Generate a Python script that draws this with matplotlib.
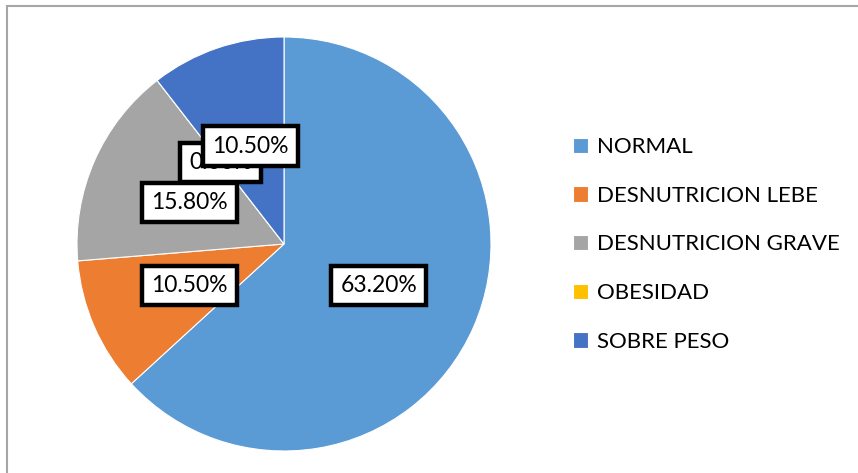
import matplotlib.pyplot as plt
from matplotlib.patches import Rectangle

categorias = ['NORMAL', 'DESNUTRICION LEBE', 'DESNUTRICION GRAVE', 'OBESIDAD', 'SOBRE PESO']
valori = [63.2, 10.5, 15.8, 0.0, 10.5]
colori = ['#5B9BD5', '#ED7D31', '#A5A5A5', '#FFC000', '#4472C4']

plt.rcParams['font.family'] = ['Lato', 'DejaVu Sans']

W, H = 858, 473
fig = plt.figure(figsize=(W / 100, H / 100), dpi=100)

# bordo grigio del riquadro (tagliato a destra e in basso)
fig.patches.append(Rectangle((7 / W, -0.05), 1.1, 1 - 6.5 / H + 0.05,
                             transform=fig.transFigure, fill=False,
                             edgecolor='#A6A6A6', linewidth=1.5))

# torta centrata a (284, 244) px, raggio 207 px
cx, cy, r = 284, 244, 207
ax = fig.add_axes([(cx - r) / W, (H - cy - r) / H, 2 * r / W, 2 * r / H])

wedges, _, autotexts = ax.pie(valori, colors=colori, startangle=90, counterclock=False,
                              autopct='%.2f%%', pctdistance=0.5,
                              wedgeprops=dict(edgecolor='white', linewidth=0.8),
                              textprops=dict(fontsize=16.5, color='black'))
for t in autotexts:
    t.set_bbox(dict(boxstyle='square,pad=0.4', facecolor='white',
                    edgecolor='black', linewidth=3.2))
ax.set_xlim(-1, 1)
ax.set_ylim(-1, 1)
ax.set_aspect('equal')

leg = fig.legend(wedges, categorias, loc='upper left',
                 bbox_to_anchor=(553 / W, 1 - 117 / H), frameon=False,
                 fontsize=16, handlelength=0.68, handleheight=0.68,
                 handletextpad=0.4, labelspacing=1.29)

fig.savefig('out.png', dpi=100)
